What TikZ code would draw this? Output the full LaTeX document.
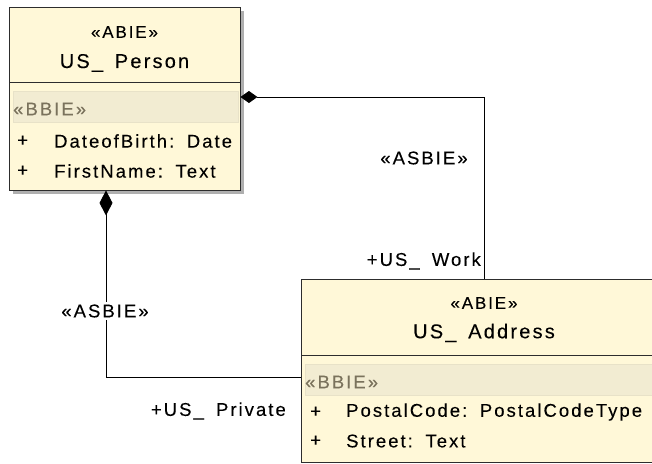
\documentclass[tikz,border=0pt]{standalone}
\usepackage{fontspec}
\setmainfont{Liberation Sans}
\newfontfamily\umlfont[LetterSpace=11, FakeBold=0.15]{Liberation Sans}
\usetikzlibrary{arrows.meta,calc}
\definecolor{classfill}{RGB}{255,248,216}
\definecolor{bandfill}{RGB}{242,236,210}
\definecolor{bandline}{RGB}{232,226,200}
\definecolor{edgecol}{RGB}{45,45,45}
\definecolor{stereogray}{RGB}{122,114,92}
\definecolor{shadowgray}{RGB}{175,175,175}
\newcommand{\colsep}{:\hspace{3pt} }
\newcommand{\usp}{US\_\hspace{5pt} }
\tikzset{
  classbox/.style={draw=edgecol, line width=0.9pt, fill=classfill, inner sep=0pt},
  txt/.style={font=\umlfont\fontsize{18.5}{21}\selectfont, inner sep=0pt, text=black},
  stereo/.style={font=\umlfont\fontsize{17}{20}\selectfont, inner sep=0pt, text=black},
  cname/.style={font=\umlfont\fontsize{20}{23}\selectfont, inner sep=0pt, text=black},
  band/.style={fill=bandfill, draw=bandline, line width=0.5pt, inner sep=0pt},
  conn/.style={draw=black, line width=0.9pt},
  lbl/.style={txt, fill=white, inner sep=2pt}
}
\begin{document}
\begin{tikzpicture}[x=1pt,y=-1pt]
\useasboundingbox (0,0) rectangle (652,463);
\clip (0,0) rectangle (652,463);
\fill[white] (0,0) rectangle (652,463);

% US_ Person class
\fill[shadowgray] (13,11) rectangle (244,194);
\node[classbox, minimum width=231pt, minimum height=183pt] (person) at (124.5,98.5) {};
\draw[edgecol, line width=0.9pt] (9,82) -- (240,82);
\node[band, minimum width=225pt, minimum height=31pt] (pband) at (125.5,106.5) {};
\node[stereo] (pster) at (124.5,32) {«ABIE»};
\node[cname] (pname) at (124.5,63) {US\_\hspace{4pt} Person};
\node[txt, anchor=west, text=stereogray] (pbbie) at (13,109) {«BBIE»};
\node[txt, anchor=west] (pplus1) at (17,141) {+};
\node[txt, anchor=west] (pattr1) at (54,141) {DateofBirth\colsep Date};
\node[txt, anchor=west] (pplus2) at (17,171) {+};
\node[txt, anchor=west] (pattr2) at (54,171) {FirstName\colsep Text};

% US_ Address class
\node[classbox, minimum width=366pt, minimum height=183pt] (address) at (484,370.5) {};
\draw[edgecol, line width=0.9pt] (301,355) -- (667,355);
\node[band, minimum width=360pt, minimum height=31pt] (aband) at (485,379.5) {};
\node[stereo] (aster) at (484,303) {«ABIE»};
\node[cname] (aname) at (484,333) {US\_\hspace{4pt} Address};
\node[txt, anchor=west, text=stereogray] (abbie) at (305,382) {«BBIE»};
\node[txt, anchor=west] (aplus1) at (310,412) {+};
\node[txt, anchor=west] (aattr1) at (346,412) {PostalCode\colsep PostalCodeType};
\node[txt, anchor=west] (aplus2) at (310,441) {+};
\node[txt, anchor=west] (aattr2) at (346,441) {Street\colsep Text};

% Composition: work address
\draw[conn, {Diamond[length=17pt,width=12pt]}-] ([yshift=1.5pt]person.east) -| (address.north);
% Composition: private address
\draw[conn, {Diamond[length=25pt,width=13pt]}-] ([xshift=-18.5pt]person.south) |- ([yshift=-6.5pt]address.west);

% Association labels
\node[lbl] (asbie1) at (424,158) {«ASBIE»};
\node[lbl] (asbie2) at (105,311) {«ASBIE»};
\node[txt, anchor=east] (work) at (481,261) {+\usp Work};
\node[txt, anchor=east] (private) at (286,411) {+\usp Private};
\end{tikzpicture}
\end{document}
